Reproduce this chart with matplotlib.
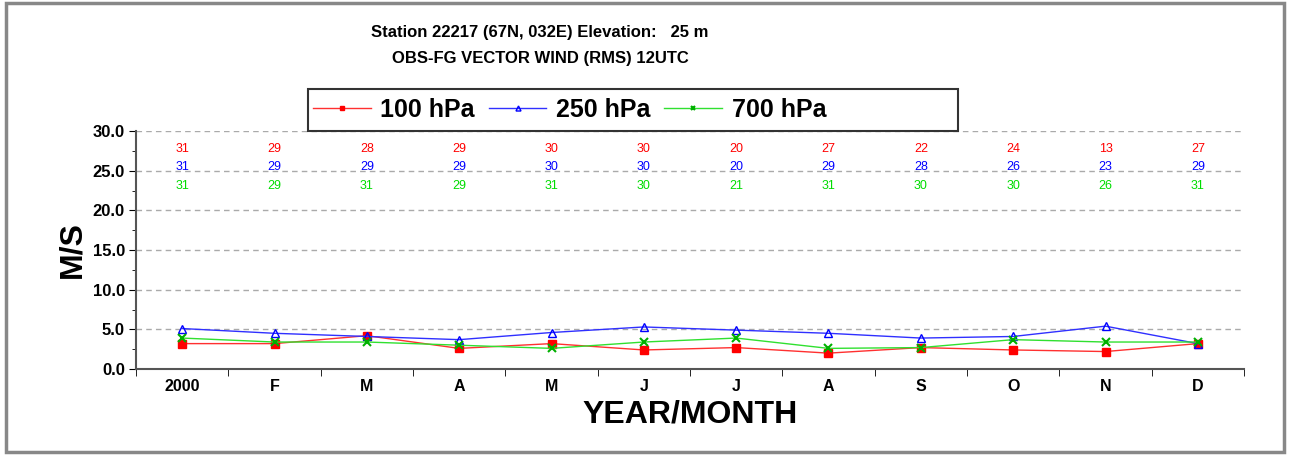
import matplotlib
matplotlib.use("Agg")
from matplotlib import pyplot as plt
from matplotlib.patches import Rectangle
import numpy as np

plt.rcParams["font.family"] = ["Liberation Sans", "DejaVu Sans"]

months = ["2000", "F", "M", "A", "M", "J", "J", "A", "S", "O", "N", "D"]

# RMS vector wind (m/s) per month
rms_100 = [3.2, 3.2, 4.2, 2.6, 3.2, 2.4, 2.7, 2.0, 2.7, 2.4, 2.2, 3.2]
rms_250 = [5.1, 4.5, 4.1, 3.7, 4.6, 5.3, 4.9, 4.5, 3.9, 4.1, 5.4, 3.2]
rms_700 = [3.9, 3.4, 3.4, 3.0, 2.6, 3.4, 3.9, 2.6, 2.7, 3.7, 3.4, 3.4]

# number of observations per month
n_100 = [31, 29, 28, 29, 30, 30, 20, 27, 22, 24, 13, 27]
n_250 = [31, 29, 29, 29, 30, 30, 20, 29, 28, 26, 23, 29]
n_700 = [31, 29, 31, 29, 31, 30, 21, 31, 30, 30, 26, 31]

fig = plt.figure(figsize=(12.89, 4.55), dpi=100)
ax = fig.add_axes([136 / 1289, 1 - 369 / 455, 1108 / 1289, 238 / 455])

x = np.arange(len(months))
l1, = ax.plot(x, rms_100, color="#ff3030", lw=1.0, marker="s", ms=6,
              mfc="red", mec="red", label="100 hPa", zorder=3)
l2, = ax.plot(x, rms_250, color="#3030ff", lw=1.0, marker="^", ms=6,
              mfc="none", mec="blue", label="250 hPa", zorder=3)
l3, = ax.plot(x, rms_700, color="#30e030", lw=1.0, marker="x", ms=6,
              mew=1.5, mec="#00b000", label="700 hPa", zorder=3)

# observation counts above the curves
for i in x:
    ax.text(i, 27.7, str(n_100[i]), color="red", ha="center", va="center", fontsize=9)
    ax.text(i, 25.5, str(n_250[i]), color="blue", ha="center", va="center", fontsize=9)
    ax.text(i, 23.1, str(n_700[i]), color="#00dd00", ha="center", va="center", fontsize=9)

ax.set_xlim(-0.5, 11.5)
ax.set_ylim(0, 30)
ax.set_yticks(np.arange(0, 30.1, 5))
ax.set_yticks(np.arange(0, 30.1, 2.5), minor=True)
ax.set_yticklabels([f"{v:.1f}" for v in np.arange(0, 30.1, 5)], fontsize=12, fontweight="bold")
ax.set_xticks(x)
ax.set_xticklabels(months, fontsize=11.5, fontweight="bold")
ax.set_xticks(np.arange(-0.5, 11.6, 1), minor=True)
ax.tick_params(axis="x", which="major", length=0, pad=7)
ax.tick_params(axis="x", which="minor", length=5, direction="out")
ax.tick_params(axis="y", which="major", length=5, direction="out", pad=3)
ax.tick_params(axis="y", which="minor", length=3, direction="out")

for y in range(5, 31, 5):
    ax.axhline(y, color="#aaaaaa", lw=1.0, ls=(0, (4, 3)), zorder=1)

ax.spines["top"].set_visible(False)
ax.spines["right"].set_visible(False)
ax.spines["left"].set_linewidth(1.5)
ax.spines["bottom"].set_linewidth(1.5)
ax.spines["left"].set_color("#555555")
ax.spines["bottom"].set_color("#555555")

ax.set_ylabel("M/S", fontsize=23, fontweight="bold", labelpad=4)
ax.set_xlabel("YEAR/MONTH", fontsize=23, fontweight="bold", labelpad=4)

fig.text(540 / 1289, 1 - 33 / 455, "Station 22217 (67N, 032E) Elevation:   25 m",
         ha="center", va="center", fontsize=12, fontweight="semibold")
fig.text(540 / 1289, 1 - 58 / 455, "OBS-FG VECTOR WIND (RMS) 12UTC",
         ha="center", va="center", fontsize=12, fontweight="semibold")

# legend box drawn separately so the entries sit on its left side
fig.patches.append(Rectangle((308 / 1289, 1 - 131 / 455), 650 / 1289, 42 / 455,
                             transform=fig.transFigure, facecolor="white",
                             edgecolor="#333333", lw=1.5, zorder=5))
leg = fig.legend(handles=[l1, l2, l3], loc="center left",
                 bbox_to_anchor=(308 / 1289, 1 - 110 / 455),
                 borderaxespad=0, ncol=3, fontsize=18, frameon=False,
                 markerscale=0.6, handlelength=2.3, handletextpad=0.4,
                 columnspacing=0.55, borderpad=0.2)
leg.set_zorder(6)
for t in leg.get_texts():
    t.set_fontweight("bold")

# outer frame of the picture
fig.patches.append(Rectangle((6 / 1289, 3 / 455), 1278 / 1289, 449 / 455,
                             transform=fig.transFigure, fill=False,
                             edgecolor="#888888", lw=2.5))

fig.savefig("out.png", dpi=100)
